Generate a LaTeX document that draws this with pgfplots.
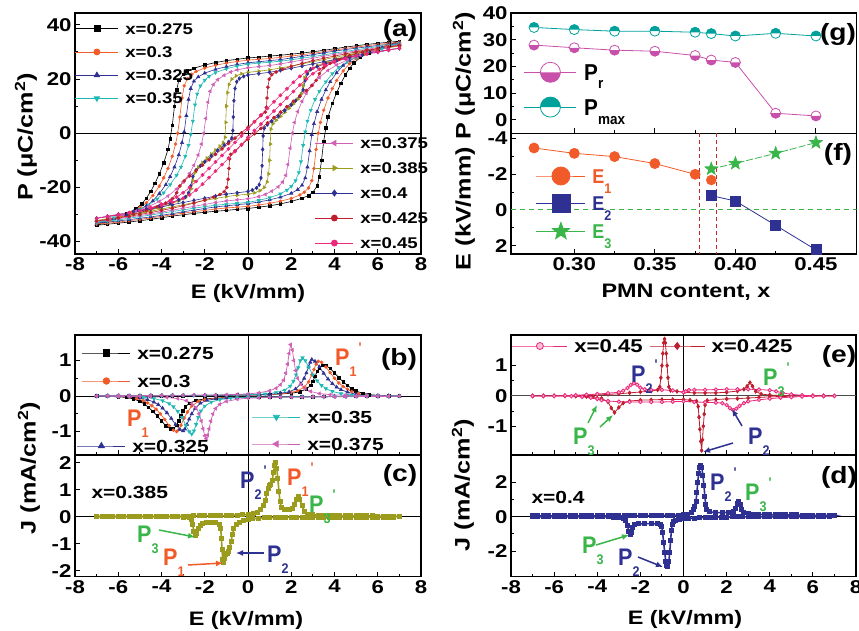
\documentclass[border=0pt]{standalone}
\usepackage{fontspec}
\setmainfont{Liberation Sans}[FakeStretch=1.2]
\newfontfamily\nfont{Liberation Sans}[FakeStretch=0.9]
\usepackage{pgfplots}
\pgfplotsset{compat=1.18}
\usetikzlibrary{arrows.meta}

\definecolor{cO}{RGB}{241,90,41}
\definecolor{cB}{RGB}{46,49,146}
\definecolor{cT}{RGB}{32,185,180}
\definecolor{cM}{RGB}{208,96,180}
\definecolor{cOl}{RGB}{155,155,30}
\definecolor{cDR}{RGB}{190,30,45}
\definecolor{cHP}{RGB}{236,40,122}
\definecolor{cG}{RGB}{57,181,74}
\definecolor{cPr}{RGB}{200,80,170}
\definecolor{cPm}{RGB}{0,160,155}
\definecolor{cRD}{RGB}{200,40,40}

\pgfdeclareplotmark{prmark}{%
  \pgfpathcircle{\pgfpointorigin}{\pgfplotmarksize}%
  \pgfsetfillcolor{white}\pgfusepathqfill
  \pgfpathmoveto{\pgfqpoint{\pgfplotmarksize}{0pt}}%
  \pgfpatharc{0}{-180}{\pgfplotmarksize}%
  \pgfpathclose
  \pgfsetfillcolor{cPr}\pgfusepathqfill
  \pgfpathcircle{\pgfpointorigin}{\pgfplotmarksize}%
  \pgfsetstrokecolor{cPr}\pgfusepathqstroke}
\pgfdeclareplotmark{pmmark}{%
  \pgfpathcircle{\pgfpointorigin}{\pgfplotmarksize}%
  \pgfsetfillcolor{white}\pgfusepathqfill
  \pgfpathmoveto{\pgfqpoint{\pgfplotmarksize}{0pt}}%
  \pgfpatharc{0}{180}{\pgfplotmarksize}%
  \pgfpathclose
  \pgfsetfillcolor{cPm}\pgfusepathqfill
  \pgfpathcircle{\pgfpointorigin}{\pgfplotmarksize}%
  \pgfsetstrokecolor{cPm}\pgfusepathqstroke}
\pgfdeclareplotmark{fstar}{%
  \pgfpathmoveto{\pgfpointpolar{90}{\pgfplotmarksize}}%
  \pgfpathlineto{\pgfpointpolar{126}{0.42\pgfplotmarksize}}%
  \pgfpathlineto{\pgfpointpolar{162}{\pgfplotmarksize}}%
  \pgfpathlineto{\pgfpointpolar{198}{0.42\pgfplotmarksize}}%
  \pgfpathlineto{\pgfpointpolar{234}{\pgfplotmarksize}}%
  \pgfpathlineto{\pgfpointpolar{270}{0.42\pgfplotmarksize}}%
  \pgfpathlineto{\pgfpointpolar{306}{\pgfplotmarksize}}%
  \pgfpathlineto{\pgfpointpolar{342}{0.42\pgfplotmarksize}}%
  \pgfpathlineto{\pgfpointpolar{18}{\pgfplotmarksize}}%
  \pgfpathlineto{\pgfpointpolar{54}{0.42\pgfplotmarksize}}%
  \pgfpathclose
  \pgfusepathqfillstroke}

\newcommand{\fs}[1]{\fontsize{#1}{#1}\selectfont}
\newcommand{\Pa}[1]{{\nfont\bfseries\fs{24}P\raisebox{-11pt}{\fs{14}#1}}}
\newcommand{\Pb}[1]{{\nfont\bfseries\fs{24}P\raisebox{-11pt}{\fs{14}#1}\hspace{2pt}\raisebox{13pt}{\fs{14}'}}}

\pgfplotsset{
  pan/.style={scale only axis, anchor=south west, axis line style={line width=1.2pt},
    tick align=inside, tick pos=left, major tick length=5pt, minor tick length=3pt,
    tick style={line width=1pt, black}, tick label style={font=\bfseries\fs{18.5}},
    /pgf/number format/assume math mode=true},
  leg/.style={scale only axis, anchor=south west, hide axis, xmin=0, xmax=1, ymin=0, ymax=1,
    legend cell align=left,
    legend style={draw=none, fill=none, inner sep=0pt, outer sep=0pt, column sep=6.5pt,
      nodes={inner sep=0pt, text depth=0pt}}},
}

\begin{document}
\begin{tikzpicture}[font=\bfseries]
\useasboundingbox (0pt,0pt) rectangle (859pt,-631pt);

%% ---------------- (a) ----------------
\begin{axis}[pan, at={(75pt,-254pt)}, width=346pt, height=241pt,
  xmin=-8, xmax=8, ymin=-44.6, ymax=44.4, xtick={-8,-6,...,8}, ytick={-40,-20,0,20,40},
  minor x tick num=1, minor y tick num=1]
\draw[line width=1pt] (axis cs:0,-44.6) -- (axis cs:0,44.4);
\draw[line width=1pt] (axis cs:-8,0) -- (axis cs:8,0);
\addplot[black, line width=0.6pt, mark=square*, mark size=1.3pt] coordinates {
(7,34.0)(6.5,33.6)(6,33.2)(5.5,32.8)(5,32.3)(4.5,31.8)(4,31.2)(3.5,30.6)(3,30.1)(2.5,29.6)(2,29.2)(1.5,28.8)(1,28.5)(0.5,28.1)(0,27.8)(-0.5,27.3)(-1,26.8)(-1.5,26.1)(-2,25.2)(-2.5,24.0)(-2.8,23.0)(-3.0,21.8)(-3.2,19.5)(-3.3,16)(-3.4,10)(-3.5,3)(-3.6,-2)(-3.7,-6)(-3.9,-11)(-4.1,-15)(-4.3,-18.5)(-4.5,-21.5)(-4.7,-24)(-4.9,-26)(-5.2,-28)(-5.6,-29.8)(-6.0,-31.2)(-6.5,-32.6)(-7,-34.0)
(-6.5,-33.6)(-6,-33.2)(-5.5,-32.8)(-5,-32.3)(-4.5,-31.8)(-4,-31.2)(-3.5,-30.6)(-3,-30.1)(-2.5,-29.6)(-2,-29.2)(-1.5,-28.8)(-1,-28.5)(-0.5,-28.1)(0,-27.8)(0.5,-27.3)(1,-26.8)(1.5,-26.1)(2,-25.2)(2.5,-24.0)(2.8,-23.0)(3.0,-21.8)(3.2,-19.5)(3.3,-16)(3.4,-10)(3.5,-3)(3.6,2)(3.7,6)(3.9,11)(4.1,15)(4.3,18.5)(4.5,21.5)(4.7,24)(4.9,26)(5.2,28)(5.6,29.8)(6.0,31.2)(6.5,32.6)(7,34.0)};
\addplot[cO, line width=0.6pt, mark=*, mark size=1.4pt] coordinates {
(7,33.6)(6.5,33.2)(6,32.8)(5.5,32.3)(5,31.8)(4.5,31.3)(4,30.7)(3.5,30.1)(3,29.5)(2.5,29.0)(2,28.5)(1.5,28.0)(1,27.6)(0.5,27.3)(0,27.0)(-0.5,26.5)(-1,25.9)(-1.5,25.1)(-2,24.1)(-2.4,22.8)(-2.6,21.8)(-2.8,20.2)(-2.95,17.5)(-3.05,13)(-3.15,6)(-3.25,0)(-3.35,-4)(-3.5,-8.5)(-3.7,-13)(-3.9,-16.5)(-4.1,-19.5)(-4.4,-23)(-4.7,-25.7)(-5.0,-27.5)(-5.4,-29.2)(-5.9,-30.8)(-6.4,-32.2)(-7,-33.6)
(-6.5,-33.2)(-6,-32.8)(-5.5,-32.3)(-5,-31.8)(-4.5,-31.3)(-4,-30.7)(-3.5,-30.1)(-3,-29.5)(-2.5,-29.0)(-2,-28.5)(-1.5,-28.0)(-1,-27.6)(-0.5,-27.3)(0,-27.0)(0.5,-26.5)(1,-25.9)(1.5,-25.1)(2,-24.1)(2.4,-22.8)(2.6,-21.8)(2.8,-20.2)(2.95,-17.5)(3.05,-13)(3.15,-6)(3.25,0)(3.35,4)(3.5,8.5)(3.7,13)(3.9,16.5)(4.1,19.5)(4.4,23)(4.7,25.7)(5.0,27.5)(5.4,29.2)(5.9,30.8)(6.4,32.2)(7,33.6)};
\addplot[cB, line width=0.6pt, mark=triangle*, mark size=1.8pt] coordinates {
(7,33.2)(6.5,32.8)(6,32.4)(5.5,31.9)(5,31.4)(4.5,30.9)(4,30.3)(3.5,29.7)(3,29.0)(2.5,28.4)(2,27.8)(1.5,27.2)(1,26.8)(0.5,26.4)(0,26.0)(-0.5,25.4)(-1,24.6)(-1.5,23.6)(-2,22.2)(-2.3,20.8)(-2.5,19.2)(-2.65,16.5)(-2.75,12.5)(-2.85,6.5)(-2.95,0.5)(-3.05,-3.5)(-3.2,-8)(-3.4,-12.5)(-3.6,-16)(-3.8,-19)(-4.1,-22.3)(-4.4,-25)(-4.7,-26.8)(-5.1,-28.5)(-5.6,-30.1)(-6.2,-31.6)(-7,-33.2)
(-6.5,-32.8)(-6,-32.4)(-5.5,-31.9)(-5,-31.4)(-4.5,-30.9)(-4,-30.3)(-3.5,-29.7)(-3,-29.0)(-2.5,-28.4)(-2,-27.8)(-1.5,-27.2)(-1,-26.8)(-0.5,-26.4)(0,-26.0)(0.5,-25.4)(1,-24.6)(1.5,-23.6)(2,-22.2)(2.3,-20.8)(2.5,-19.2)(2.65,-16.5)(2.75,-12.5)(2.85,-6.5)(2.95,-0.5)(3.05,3.5)(3.2,8)(3.4,12.5)(3.6,16)(3.8,19)(4.1,22.3)(4.4,25)(4.7,26.8)(5.1,28.5)(5.6,30.1)(6.2,31.6)(7,33.2)};
\addplot[cT, line width=0.6pt, mark=triangle*, mark size=1.8pt, mark options={rotate=180}] coordinates {
(7,33.0)(6.5,32.5)(6,32.0)(5.5,31.4)(5,30.8)(4.5,30.2)(4,29.6)(3.5,28.9)(3,28.3)(2.5,27.7)(2,27.1)(1.5,26.6)(1,26.2)(0.5,25.9)(0,25.5)(-0.5,24.8)(-1,23.8)(-1.5,22.4)(-1.8,21.0)(-2.0,19.6)(-2.2,17.5)(-2.35,14.5)(-2.45,10.5)(-2.55,4.5)(-2.65,-0.5)(-2.75,-4.5)(-2.9,-8.5)(-3.1,-12.5)(-3.3,-15.5)(-3.6,-19)(-3.9,-22)(-4.2,-24.3)(-4.6,-26.5)(-5.0,-28.0)(-5.5,-29.6)(-6.2,-31.2)(-7,-33.0)
(-6.5,-32.5)(-6,-32.0)(-5.5,-31.4)(-5,-30.8)(-4.5,-30.2)(-4,-29.6)(-3.5,-28.9)(-3,-28.3)(-2.5,-27.7)(-2,-27.1)(-1.5,-26.6)(-1,-26.2)(-0.5,-25.9)(0,-25.5)(0.5,-24.8)(1,-23.8)(1.5,-22.4)(1.8,-21.0)(2.0,-19.6)(2.2,-17.5)(2.35,-14.5)(2.45,-10.5)(2.55,-4.5)(2.65,0.5)(2.75,4.5)(2.9,8.5)(3.1,12.5)(3.3,15.5)(3.6,19)(3.9,22)(4.2,24.3)(4.6,26.5)(5.0,28.0)(5.5,29.6)(6.2,31.2)(7,33.0)};
\addplot[cM, line width=0.6pt, mark=triangle*, mark size=1.8pt, mark options={rotate=90}] coordinates {
(7,32.6)(6.5,32.1)(6,31.6)(5.5,31.0)(5,30.4)(4.5,29.8)(4,29.1)(3.5,28.4)(3,27.7)(2.5,27.0)(2,26.3)(1.5,25.6)(1,25.0)(0.5,24.6)(0,24.2)(-0.5,23.4)(-0.8,22.6)(-1.1,21.4)(-1.4,19.8)(-1.6,18)(-1.75,15.5)(-1.85,11.5)(-1.95,5.5)(-2.05,0)(-2.15,-4)(-2.3,-8)(-2.5,-11.8)(-2.7,-14.8)(-3.0,-18)(-3.3,-20.6)(-3.7,-23.2)(-4.1,-25.2)(-4.6,-27.1)(-5.2,-28.8)(-5.8,-30.2)(-6.4,-31.5)(-7,-32.6)
(-6.5,-32.1)(-6,-31.6)(-5.5,-31.0)(-5,-30.4)(-4.5,-29.8)(-4,-29.1)(-3.5,-28.4)(-3,-27.7)(-2.5,-27.0)(-2,-26.3)(-1.5,-25.6)(-1,-25.0)(-0.5,-24.6)(0,-24.2)(0.5,-23.4)(0.8,-22.6)(1.1,-21.4)(1.4,-19.8)(1.6,-18)(1.75,-15.5)(1.85,-11.5)(1.95,-5.5)(2.05,0)(2.15,4)(2.3,8)(2.5,11.8)(2.7,14.8)(3.0,18)(3.3,20.6)(3.7,23.2)(4.1,25.2)(4.6,27.1)(5.2,28.8)(5.8,30.2)(6.4,31.5)(7,32.6)};
\addplot[cOl, line width=0.6pt, mark=triangle*, mark size=1.8pt, mark options={rotate=-90}] coordinates {
(7,32.2)(6.5,31.6)(6,31.0)(5.5,30.3)(5,29.6)(4.5,28.8)(4,28.0)(3.5,27.2)(3,26.4)(2.5,25.6)(2,24.8)(1.5,24.1)(1,23.4)(0.5,22.9)(0,22.5)(-0.3,22.0)(-0.55,21.2)(-0.75,20.0)(-0.88,18.0)(-0.95,15)(-1.0,10)(-1.03,4)(-1.06,-1.5)(-1.15,-3.5)(-1.3,-4.8)(-1.5,-6.2)(-1.7,-7.7)(-1.9,-9.2)(-2.1,-10.8)(-2.3,-12.5)(-2.45,-14.5)(-2.55,-17.5)(-2.62,-20.5)(-2.72,-22.5)(-2.9,-23.8)(-3.2,-25.0)(-3.6,-26.2)(-4.1,-27.5)(-4.7,-28.8)(-5.3,-29.9)(-6,-31.0)(-6.5,-31.6)(-7,-32.2)
(-6.5,-31.6)(-6,-31.0)(-5.5,-30.3)(-5,-29.6)(-4.5,-28.8)(-4,-28.0)(-3.5,-27.2)(-3,-26.4)(-2.5,-25.6)(-2,-24.8)(-1.5,-24.1)(-1,-23.4)(-0.5,-22.9)(0,-22.5)(0.3,-22.0)(0.55,-21.2)(0.75,-20.0)(0.88,-18.0)(0.95,-15)(1.0,-10)(1.03,-4)(1.06,1.5)(1.15,3.5)(1.3,4.8)(1.5,6.2)(1.7,7.7)(1.9,9.2)(2.1,10.8)(2.3,12.5)(2.45,14.5)(2.55,17.5)(2.62,20.5)(2.72,22.5)(2.9,23.8)(3.2,25.0)(3.6,26.2)(4.1,27.5)(4.7,28.8)(5.3,29.9)(6,31.0)(6.5,31.6)(7,32.2)};
\addplot[cB, line width=0.6pt, mark=diamond*, mark size=1.8pt] coordinates {
(7,31.4)(6.5,30.8)(6,30.2)(5.5,29.5)(5,28.8)(4.5,28.0)(4,27.2)(3.5,26.4)(3,25.6)(2.5,24.8)(2,24.0)(1.5,23.2)(1,22.5)(0.5,22.0)(0,21.5)(-0.2,21.0)(-0.4,20.2)(-0.52,19)(-0.6,16.5)(-0.65,12)(-0.68,6)(-0.7,1)(-0.75,-1.8)(-0.9,-3.2)(-1.1,-4.4)(-1.4,-6.3)(-1.7,-8.4)(-2.0,-10.5)(-2.2,-12.0)(-2.4,-13.6)(-2.55,-16)(-2.65,-19.5)(-2.75,-22)(-2.9,-23.6)(-3.2,-24.6)(-3.6,-25.8)(-4.1,-26.9)(-4.7,-28.0)(-5.3,-29.0)(-6,-30.0)(-6.5,-30.7)(-7,-31.4)
(-6.5,-30.8)(-6,-30.2)(-5.5,-29.5)(-5,-28.8)(-4.5,-28.0)(-4,-27.2)(-3.5,-26.4)(-3,-25.6)(-2.5,-24.8)(-2,-24.0)(-1.5,-23.2)(-1,-22.5)(-0.5,-22.0)(0,-21.5)(0.2,-21.0)(0.4,-20.2)(0.52,-19)(0.6,-16.5)(0.65,-12)(0.68,-6)(0.7,-1)(0.75,1.8)(0.9,3.2)(1.1,4.4)(1.4,6.3)(1.7,8.4)(2.0,10.5)(2.2,12.0)(2.4,13.6)(2.55,16)(2.65,19.5)(2.75,22)(2.9,23.6)(3.2,24.6)(3.6,25.8)(4.1,26.9)(4.7,28.0)(5.3,29.0)(6,30.0)(6.5,30.7)(7,31.4)};
\addplot[cDR, line width=0.6pt, mark=*, mark size=1.5pt] coordinates {
(7,32.4)(6.5,31.9)(6,31.3)(5.5,30.7)(5,30.0)(4.5,29.3)(4,28.5)(3.5,27.7)(3,26.8)(2.5,25.8)(2,24.7)(1.6,23.6)(1.3,22.6)(1.1,21.6)(0.98,20)(0.92,17)(0.88,13)(0.85,9.5)(0.8,7.8)(0.6,6.5)(0.3,4.3)(0,2.2)(-0.3,0.2)(-0.6,-1.8)(-0.9,-3.8)(-1.2,-5.8)(-1.5,-7.8)(-1.8,-9.8)(-2.1,-11.8)(-2.4,-13.8)(-2.7,-15.8)(-2.95,-17.6)(-3.15,-19.5)(-3.3,-22)(-3.5,-24.2)(-3.8,-25.8)(-4.2,-27.2)(-4.7,-28.6)(-5.3,-29.9)(-6,-31.2)(-6.5,-31.8)(-7,-32.4)
(-6.5,-31.9)(-6,-31.3)(-5.5,-30.7)(-5,-30.0)(-4.5,-29.3)(-4,-28.5)(-3.5,-27.7)(-3,-26.8)(-2.5,-25.8)(-2,-24.7)(-1.6,-23.6)(-1.3,-22.6)(-1.1,-21.6)(-0.98,-20)(-0.92,-17)(-0.88,-13)(-0.85,-9.5)(-0.8,-7.8)(-0.6,-6.5)(-0.3,-4.3)(0,-2.2)(0.3,-0.2)(0.6,1.8)(0.9,3.8)(1.2,5.8)(1.5,7.8)(1.8,9.8)(2.1,11.8)(2.4,13.8)(2.7,15.8)(2.95,17.6)(3.15,19.5)(3.3,22)(3.5,24.2)(3.8,25.8)(4.2,27.2)(4.7,28.6)(5.3,29.9)(6,31.2)(6.5,31.8)(7,32.4)};
\addplot[cHP, line width=0.6pt, mark=*, mark size=1.6pt] coordinates {
(7,31.4)(6.5,30.8)(6,30.1)(5.5,29.4)(5,28.6)(4.5,27.7)(4,26.7)(3.5,25.5)(3,24.0)(2.7,22.8)(2.4,21.0)(2.1,18.8)(1.8,16.4)(1.5,14.0)(1.2,11.6)(0.9,9.2)(0.6,6.8)(0.3,4.2)(0,1.5)(-0.3,-1.0)(-0.6,-3.4)(-0.9,-5.8)(-1.2,-8.2)(-1.5,-10.6)(-1.8,-13.0)(-2.1,-15.4)(-2.4,-17.8)(-2.7,-20.0)(-3.0,-22.0)(-3.3,-23.6)(-3.6,-24.9)(-4.0,-26.2)(-4.5,-27.5)(-5,-28.5)(-5.5,-29.3)(-6,-30.0)(-6.5,-30.7)(-7,-31.4)
(-6.5,-30.8)(-6,-30.1)(-5.5,-29.4)(-5,-28.6)(-4.5,-27.7)(-4,-26.7)(-3.5,-25.5)(-3,-24.0)(-2.7,-22.8)(-2.4,-21.0)(-2.1,-18.8)(-1.8,-16.4)(-1.5,-14.0)(-1.2,-11.6)(-0.9,-9.2)(-0.6,-6.8)(-0.3,-4.2)(0,-1.5)(0.3,1.0)(0.6,3.4)(0.9,5.8)(1.2,8.2)(1.5,10.6)(1.8,13.0)(2.1,15.4)(2.4,17.8)(2.7,20.0)(3.0,22.0)(3.3,23.6)(3.6,24.9)(4.0,26.2)(4.5,27.5)(5,28.5)(5.5,29.3)(6,30.0)(6.5,30.7)(7,31.4)};
\end{axis}
% (a) legends
\begin{axis}[leg, at={(75pt,-254pt)}, width=346pt, height=241pt,
  legend image code/.code={\draw[mark repeat=2,mark phase=2,mark size=3pt] plot coordinates {(0pt,0pt)(21.5pt,0pt)(43pt,0pt)};},
  legend style={at={(0,1)}, anchor=north west, yshift=-10.2pt, row sep=12.1pt, font=\bfseries\fs{15.5}, nodes={text height=11.1pt}}]
\addlegendimage{black, line width=0.8pt, mark=square*}\addlegendentry{x=0.275}
\addlegendimage{cO, line width=0.8pt, mark=*}\addlegendentry{x=0.3}
\addlegendimage{cB, line width=0.8pt, mark=triangle*}\addlegendentry{x=0.325}
\addlegendimage{cT, line width=0.8pt, mark=triangle*, mark options={rotate=180}}\addlegendentry{x=0.35}
\end{axis}
\begin{axis}[leg, at={(75pt,-254pt)}, width=346pt, height=241pt,
  legend image code/.code={\draw[mark repeat=2,mark phase=2,mark size=3pt] plot coordinates {(0pt,0pt)(19pt,0pt)(38pt,0pt)};},
  legend style={at={(0,0)}, anchor=south west, xshift=240pt, yshift=5.4pt, row sep=13.9pt, font=\bfseries\fs{15.5}, nodes={text height=11.1pt}}]
\addlegendimage{cM, line width=0.8pt, mark=triangle*, mark options={rotate=90}}\addlegendentry{x=0.375}
\addlegendimage{cOl, line width=0.8pt, mark=triangle*, mark options={rotate=-90}}\addlegendentry{x=0.385}
\addlegendimage{cB, line width=0.8pt, mark=diamond*}\addlegendentry{x=0.4}
\addlegendimage{cDR, line width=0.8pt, mark=*}\addlegendentry{x=0.425}
\addlegendimage{cHP, line width=0.8pt, mark=*}\addlegendentry{x=0.45}
\end{axis}

%% ---------------- (g) ----------------
\begin{axis}[pan, at={(511pt,-133.3pt)}, width=345.7pt, height=120.3pt,
  xmin=0.2607, xmax=0.4753, ymin=-5, ymax=40, xtick={0.30,0.35,0.40,0.45}, xticklabels={},
  ytick={0,10,20,30,40}, minor x tick num=1, minor y tick num=1]
\addplot[cPm, line width=0.8pt, mark=pmmark, mark size=5pt] coordinates {
(0.275,34.6)(0.3,33.8)(0.325,33.2)(0.35,33.2)(0.375,32.8)(0.385,32.3)(0.4,31.4)(0.425,32.4)(0.45,31.4)};
\addplot[cPr, line width=0.8pt, mark=prmark, mark size=5pt] coordinates {
(0.275,28.0)(0.3,27.0)(0.325,26.1)(0.35,25.7)(0.375,24.1)(0.385,22.4)(0.4,21.5)(0.425,2.5)(0.45,1.5)};
\end{axis}
\begin{axis}[leg, at={(511pt,-133.3pt)}, width=345.7pt, height=120.3pt,
  legend image code/.code={\draw[mark repeat=2,mark phase=2,mark size=10pt] plot coordinates {(0pt,0pt)(26pt,0pt)(52pt,0pt)};},
  legend style={at={(0,1)}, anchor=north west, xshift=13pt, yshift=-49.3pt, row sep=14.8pt, nodes={text height=0pt}}]
\addlegendimage{cPr, line width=0.8pt, mark=prmark}\addlegendentry{}
\addlegendimage{cPm, line width=0.8pt, mark=pmmark}\addlegendentry{}
\end{axis}
\node[anchor=base west, inner sep=0pt] at (584pt,-81pt) {\nfont\bfseries\fs{23}P\raisebox{-8pt}{\fs{15}r}};
\node[anchor=base west, inner sep=0pt] at (584pt,-116pt) {\nfont\bfseries\fs{23}P\raisebox{-9pt}{\fs{15}max}};

%% ---------------- (f) ----------------
\begin{axis}[pan, at={(511pt,-254pt)}, width=345.7pt, height=120.7pt,
  xmin=0.2607, xmax=0.4753, ymin=-4.28, ymax=2.46, y dir=reverse,
  xtick={0.30,0.35,0.40,0.45}, ytick={-4,-2,0,2}, minor x tick num=1, minor y tick num=1,
  xticklabel style={/pgf/number format/fixed, /pgf/number format/fixed zerofill, /pgf/number format/precision=2}]
\addplot[cG, line width=1pt, dash pattern=on 5pt off 4pt, forget plot] coordinates {(0.2607,0)(0.4753,0)};
\addplot[cRD, line width=1pt, dash pattern=on 4pt off 3pt, forget plot] coordinates {(0.378,-4.28)(0.378,2.46)};
\addplot[cRD, line width=1pt, dash pattern=on 4pt off 3pt, forget plot] coordinates {(0.388,-4.28)(0.388,2.46)};
\addplot[cO, line width=0.8pt, mark=*, mark size=5pt] coordinates {
(0.275,-3.46)(0.3,-3.16)(0.325,-2.98)(0.35,-2.59)(0.375,-1.99)};
\addplot[cO, only marks, mark=*, mark size=5pt] coordinates {(0.385,-1.67)};
\addplot[cB, line width=0.8pt, mark=square*, mark size=5pt] coordinates {
(0.385,-0.8)(0.4,-0.5)(0.425,0.86)(0.45,2.23)};
\addplot[cG, line width=0.8pt, dash pattern=on 7pt off 2pt, mark=fstar, mark size=6.5pt, mark options={solid, fill=cG, draw=cG}] coordinates {
(0.385,-2.29)(0.4,-2.6)(0.425,-3.16)(0.45,-3.76)};
\end{axis}
\begin{axis}[leg, at={(511pt,-254pt)}, width=345.7pt, height=120.7pt,
  legend image code/.code={\draw[mark repeat=2,mark phase=2,mark size=9pt] plot coordinates {(0pt,0pt)(24.5pt,0pt)(49pt,0pt)};},
  legend style={at={(0,1)}, anchor=north west, xshift=25pt, yshift=-33.7pt, row sep=9.7pt, nodes={text height=14.3pt}}]
\addlegendimage{cO, line width=0.8pt, mark=*}\addlegendentry{\textcolor{cO}{\nfont\bfseries\fs{20}E\raisebox{-10pt}{\fs{14}1}}}
\addlegendimage{cB, line width=0.8pt, mark=square*}\addlegendentry{\textcolor{cB}{\nfont\bfseries\fs{20}E\raisebox{-10pt}{\fs{14}2}}}
\addlegendimage{cG, line width=0.8pt, mark=fstar, mark options={fill=cG, draw=cG}}\addlegendentry{\textcolor{cG}{\nfont\bfseries\fs{20}E\raisebox{-10pt}{\fs{14}3}}}
\end{axis}

%% ---------------- (b) ----------------
\begin{axis}[pan, at={(75pt,-455pt)}, width=346pt, height=120pt,
  xmin=-8, xmax=8, ymin=-1.66, ymax=1.72, xtick={-8,-6,...,8}, xticklabels={},
  ytick={-1,0,1}, minor x tick num=1, minor y tick num=1]
\draw[line width=1pt] (axis cs:0,-1.66) -- (axis cs:0,1.72);
\draw[line width=1pt] (axis cs:-8,0) -- (axis cs:8,0);
\addplot[black, line width=0.7pt, mark=square*, mark size=1.3pt] coordinates {
(-7,0)(-6.5,0.01)(-6,0.01)(-5.5,0.01)(-5,0.01)(-4.5,0.01)(-4,0.01)(-3.5,0.01)(-3,0.01)(-2.5,0.02)(-2,0.02)(-1.5,0.02)(-1,0.02)(-0.5,0.03)(0,0.03)(0.5,0.03)(1,0.04)(1.5,0.06)(2,0.08)(2.4,0.12)(2.7,0.2)(2.9,0.3)(3.0,0.42)(3.1,0.55)(3.2,0.7)(3.3,0.8)(3.45,0.87)(3.6,0.86)(3.8,0.78)(4.0,0.65)(4.2,0.52)(4.4,0.4)(4.6,0.3)(4.8,0.21)(5.0,0.14)(5.3,0.08)(5.6,0.04)(6,0.02)(6.5,0.01)(7,0)
(6.5,-0.01)(6,-0.01)(5.5,-0.01)(5,-0.01)(4.5,-0.01)(4,-0.01)(3.5,-0.01)(3,-0.02)(2.5,-0.02)(2,-0.02)(1.5,-0.02)(1,-0.03)(0.5,-0.03)(0,-0.03)(-0.5,-0.03)(-1,-0.04)(-1.5,-0.06)(-2,-0.08)(-2.4,-0.12)(-2.7,-0.2)(-2.9,-0.3)(-3.0,-0.42)(-3.1,-0.55)(-3.2,-0.7)(-3.3,-0.82)(-3.45,-0.93)(-3.6,-0.92)(-3.8,-0.84)(-4.0,-0.7)(-4.2,-0.56)(-4.4,-0.43)(-4.6,-0.32)(-4.8,-0.22)(-5.0,-0.15)(-5.3,-0.08)(-5.6,-0.04)(-6,-0.02)(-6.5,-0.01)(-7,0)};
\addplot[cO, line width=0.7pt, mark=*, mark size=1.4pt] coordinates {
(-7,0)(-6.5,0.01)(-6,0.01)(-5.5,0.01)(-5,0.01)(-4.5,0.01)(-4,0.01)(-3.5,0.01)(-3,0.02)(-2.5,0.02)(-2,0.02)(-1.5,0.02)(-1,0.02)(-0.5,0.03)(0,0.03)(0.5,0.03)(1,0.04)(1.5,0.06)(2,0.1)(2.3,0.15)(2.6,0.25)(2.8,0.4)(2.95,0.6)(3.05,0.75)(3.15,0.9)(3.25,0.98)(3.4,0.95)(3.6,0.82)(3.8,0.66)(4.0,0.5)(4.2,0.37)(4.4,0.27)(4.6,0.19)(4.8,0.13)(5.1,0.07)(5.5,0.03)(6,0.01)(6.5,0.01)(7,0)
(6.5,-0.01)(6,-0.01)(5.5,-0.01)(5,-0.01)(4.5,-0.01)(4,-0.01)(3.5,-0.02)(3,-0.02)(2.5,-0.02)(2,-0.02)(1.5,-0.02)(1,-0.02)(0.5,-0.03)(0,-0.03)(-0.5,-0.03)(-1,-0.04)(-1.5,-0.06)(-2,-0.1)(-2.3,-0.15)(-2.6,-0.28)(-2.8,-0.45)(-2.95,-0.62)(-3.1,-0.82)(-3.2,-0.95)(-3.3,-1.0)(-3.45,-0.96)(-3.65,-0.83)(-3.85,-0.66)(-4.05,-0.5)(-4.25,-0.37)(-4.45,-0.27)(-4.65,-0.19)(-4.85,-0.13)(-5.15,-0.07)(-5.5,-0.03)(-6,-0.01)(-6.5,-0.01)(-7,0)};
\addplot[cB, line width=0.7pt, mark=triangle*, mark size=1.8pt] coordinates {
(-7,0)(-6.5,0.01)(-6,0.01)(-5.5,0.01)(-5,0.01)(-4.5,0.01)(-4,0.01)(-3.5,0.02)(-3,0.02)(-2.5,0.02)(-2,0.02)(-1.5,0.02)(-1,0.02)(-0.5,0.03)(0,0.03)(0.5,0.04)(1,0.05)(1.5,0.08)(1.9,0.12)(2.2,0.2)(2.45,0.35)(2.6,0.5)(2.7,0.65)(2.8,0.82)(2.88,0.95)(2.95,1.03)(3.1,0.98)(3.3,0.82)(3.5,0.64)(3.7,0.48)(3.9,0.35)(4.1,0.25)(4.3,0.18)(4.6,0.11)(5,0.05)(5.5,0.02)(6,0.01)(6.5,0.01)(7,0)
(6.5,-0.01)(6,-0.01)(5.5,-0.01)(5,-0.01)(4.5,-0.01)(4,-0.01)(3.5,-0.02)(3,-0.02)(2.5,-0.02)(2,-0.02)(1.5,-0.02)(1,-0.02)(0.5,-0.03)(0,-0.03)(-0.5,-0.04)(-1,-0.05)(-1.5,-0.08)(-1.9,-0.12)(-2.2,-0.2)(-2.45,-0.35)(-2.6,-0.5)(-2.72,-0.65)(-2.82,-0.8)(-2.92,-0.93)(-3.0,-0.98)(-3.15,-0.94)(-3.35,-0.8)(-3.55,-0.63)(-3.75,-0.47)(-3.95,-0.34)(-4.15,-0.24)(-4.35,-0.17)(-4.65,-0.1)(-5,-0.05)(-5.5,-0.02)(-6,-0.01)(-6.5,-0.01)(-7,0)};
\addplot[cT, line width=0.7pt, mark=triangle*, mark size=1.8pt, mark options={rotate=180}] coordinates {
(-7,0)(-6.5,0.01)(-6,0.01)(-5.5,0.01)(-5,0.01)(-4.5,0.01)(-4,0.01)(-3.5,0.02)(-3,0.02)(-2.5,0.02)(-2,0.02)(-1.5,0.03)(-1,0.03)(-0.5,0.03)(0,0.04)(0.5,0.05)(0.8,0.06)(1.3,0.1)(1.7,0.17)(1.95,0.28)(2.1,0.42)(2.22,0.6)(2.32,0.8)(2.42,1.0)(2.52,1.08)(2.65,1.0)(2.8,0.82)(3.0,0.6)(3.2,0.43)(3.4,0.3)(3.6,0.21)(3.9,0.13)(4.3,0.07)(4.8,0.03)(5.5,0.01)(6,0.01)(6.5,0)(7,0)
(6.5,-0.01)(6,-0.01)(5.5,-0.01)(5,-0.01)(4.5,-0.01)(4,-0.01)(3.5,-0.02)(3,-0.02)(2.5,-0.02)(2,-0.02)(1.5,-0.03)(1,-0.03)(0.5,-0.03)(0,-0.04)(-0.5,-0.05)(-0.8,-0.06)(-1.3,-0.1)(-1.7,-0.17)(-2.0,-0.28)(-2.18,-0.42)(-2.3,-0.6)(-2.4,-0.8)(-2.5,-0.98)(-2.6,-1.07)(-2.72,-1.0)(-2.88,-0.82)(-3.05,-0.6)(-3.25,-0.43)(-3.45,-0.3)(-3.65,-0.21)(-3.95,-0.13)(-4.35,-0.07)(-4.85,-0.03)(-5.5,-0.01)(-6,-0.01)(-6.5,0)(-7,0)};
\addplot[cM, line width=0.7pt, mark=triangle*, mark size=1.8pt, mark options={rotate=90}] coordinates {
(-7,0)(-6.5,0.01)(-6,0.01)(-5.5,0.01)(-5,0.01)(-4.5,0.02)(-4,0.02)(-3.5,0.02)(-3,0.02)(-2.5,0.03)(-2,0.03)(-1.5,0.03)(-1,0.04)(-0.5,0.05)(0,0.06)(0.5,0.09)(1.0,0.15)(1.3,0.22)(1.5,0.32)(1.65,0.45)(1.75,0.65)(1.83,0.9)(1.9,1.2)(1.97,1.45)(2.05,1.3)(2.12,1.0)(2.2,0.72)(2.3,0.5)(2.45,0.33)(2.65,0.21)(2.9,0.13)(3.3,0.07)(3.8,0.04)(4.5,0.02)(5,0.01)(5.5,0.01)(6,0.01)(6.5,0)(7,0)
(6.5,-0.01)(6,-0.01)(5.5,-0.01)(5,-0.01)(4.5,-0.02)(4,-0.02)(3.5,-0.02)(3,-0.02)(2.5,-0.03)(2,-0.03)(1.5,-0.03)(1,-0.04)(0.5,-0.05)(0,-0.06)(-0.5,-0.09)(-1.0,-0.15)(-1.3,-0.23)(-1.5,-0.35)(-1.62,-0.5)(-1.72,-0.7)(-1.8,-0.92)(-1.87,-1.1)(-1.93,-1.2)(-2.0,-1.12)(-2.08,-0.92)(-2.16,-0.7)(-2.26,-0.5)(-2.4,-0.33)(-2.6,-0.21)(-2.85,-0.13)(-3.25,-0.07)(-3.75,-0.04)(-4.5,-0.02)(-5,-0.01)(-5.5,-0.01)(-6,-0.01)(-6.5,0)(-7,0)};
\end{axis}
\begin{axis}[leg, at={(75pt,-455pt)}, width=346pt, height=120pt,
  legend image code/.code={\draw[mark repeat=2,mark phase=2,mark size=3.3pt] plot coordinates {(0pt,0pt)(24pt,0pt)(48pt,0pt)};},
  legend style={at={(0,1)}, anchor=north west, xshift=7pt, yshift=-11.75pt, row sep=15.5pt, font=\bfseries\fs{17.5}, nodes={text height=12.5pt}}]
\addlegendimage{black, line width=0.8pt, mark=square*}\addlegendentry{x=0.275}
\addlegendimage{cO, line width=0.8pt, mark=*}\addlegendentry{x=0.3}
\end{axis}
\begin{axis}[leg, at={(75pt,-455pt)}, width=346pt, height=120pt,
  legend image code/.code={\draw[mark repeat=2,mark phase=2,mark size=3.5pt] plot coordinates {(0pt,0pt)(24pt,0pt)(48pt,0pt)};},
  legend style={at={(0,0)}, anchor=south west, xshift=2pt, yshift=2.75pt, font=\bfseries\fs{17.5}, nodes={text height=12.5pt}}]
\addlegendimage{cB, line width=0.8pt, mark=triangle*}\addlegendentry{x=0.325}
\end{axis}
\begin{axis}[leg, at={(75pt,-455pt)}, width=346pt, height=120pt,
  legend image code/.code={\draw[mark repeat=2,mark phase=2,mark size=3.5pt] plot coordinates {(0pt,0pt)(24pt,0pt)(48pt,0pt)};},
  legend style={at={(0,0)}, anchor=south west, xshift=177pt, yshift=4.75pt, row sep=14.5pt, font=\bfseries\fs{17.5}, nodes={text height=12.5pt}}]
\addlegendimage{cT, line width=0.8pt, mark=triangle*, mark options={rotate=180}}\addlegendentry{x=0.35}
\addlegendimage{cM, line width=0.8pt, mark=triangle*, mark options={rotate=90}}\addlegendentry{x=0.375}
\end{axis}

%% ---------------- (c) ----------------
\begin{axis}[pan, at={(75pt,-576.7pt)}, width=346pt, height=121.7pt,
  xmin=-8, xmax=8, ymin=-2.22, ymax=2.285, xtick={-8,-6,...,8},
  ytick={-2,-1,0,1,2}, minor x tick num=1]
\draw[line width=1pt] (axis cs:0,-2.22) -- (axis cs:0,2.285);
\draw[line width=1pt] (axis cs:-8,0) -- (axis cs:8,0);
\addplot[cOl, line width=1.6pt, mark=square*, mark size=1.7pt] coordinates {
(-7,0.02)(-6.75,0.02)(-6.5,0.02)(-6.25,0.02)(-6,0.02)(-5.75,0.02)(-5.5,0.02)(-5.25,0.02)(-5,0.02)(-4.75,0.02)(-4.5,0.02)(-4.25,0.02)(-4,0.02)(-3.75,0.02)(-3.5,0.02)(-3.25,0.02)(-3,0.02)(-2.75,0.02)(-2.5,0.03)(-2.25,0.03)(-2,0.03)(-1.75,0.03)(-1.5,0.03)(-1.25,0.03)(-1,0.04)(-0.75,0.05)(-0.5,0.06)(-0.25,0.07)(0,0.08)(0.25,0.11)(0.45,0.16)(0.6,0.25)(0.72,0.4)(0.8,0.6)(0.87,0.85)(0.93,1.05)(1.0,1.15)(1.06,1.2)(1.12,1.35)(1.18,1.65)(1.23,1.9)(1.28,2.0)(1.33,1.8)(1.38,1.4)(1.43,0.95)(1.48,0.55)(1.55,0.33)(1.7,0.28)(1.9,0.28)(2.05,0.32)(2.15,0.45)(2.25,0.65)(2.32,0.74)(2.4,0.62)(2.5,0.4)(2.6,0.2)(2.75,0.1)(3,0.07)(3.25,0.06)(3.5,0.05)(3.75,0.05)(4,0.04)(4.25,0.04)(4.5,0.04)(4.75,0.04)(5,0.03)(5.25,0.03)(5.5,0.03)(5.75,0.03)(6,0.02)(6.25,0.02)(6.5,0.02)(6.75,0.02)(7,0.02)
(6.75,-0.01)(6.5,-0.01)(6.25,-0.01)(6,-0.01)(5.75,-0.01)(5.5,-0.01)(5.25,-0.01)(5,-0.01)(4.75,-0.01)(4.5,-0.01)(4.25,-0.01)(4,-0.01)(3.75,-0.01)(3.5,-0.01)(3.25,-0.01)(3,-0.01)(2.75,-0.01)(2.5,-0.01)(2.25,-0.02)(2,-0.02)(1.75,-0.02)(1.5,-0.02)(1.25,-0.03)(1,-0.03)(0.75,-0.04)(0.5,-0.05)(0.2,-0.08)(0,-0.1)(-0.2,-0.13)(-0.4,-0.2)(-0.55,-0.3)(-0.65,-0.45)(-0.72,-0.65)(-0.78,-0.9)(-0.84,-1.15)(-0.9,-1.3)(-0.96,-1.35)(-1.02,-1.4)(-1.08,-1.55)(-1.13,-1.7)(-1.17,-1.6)(-1.2,-1.2)(-1.23,-0.8)(-1.26,-0.45)(-1.3,-0.27)(-1.5,-0.23)(-1.7,-0.22)(-1.9,-0.23)(-2.1,-0.26)(-2.2,-0.32)(-2.3,-0.45)(-2.38,-0.62)(-2.44,-0.68)(-2.5,-0.55)(-2.56,-0.3)(-2.62,-0.1)(-2.7,-0.03)(-3,-0.01)(-3.25,0)(-3.5,0)(-3.75,0)(-4,0)(-4.25,0)(-4.5,0)(-4.75,0)(-5,0)(-5.25,0)(-5.5,0)(-5.75,0)(-6,0)(-6.25,0)(-6.5,0)(-6.75,0)(-7,0)};
\end{axis}

%% ---------------- (e) ----------------
\begin{axis}[pan, at={(511pt,-455pt)}, width=345pt, height=120pt,
  xmin=-8, xmax=8, ymin=-1.95, ymax=2.01, xtick={-8,-6,...,8}, xticklabels={},
  ytick={-1,0,1}, minor x tick num=1, minor y tick num=1]
\draw[line width=1pt] (axis cs:0,-1.95) -- (axis cs:0,2.01);
\draw[line width=1pt, black!70] (axis cs:-8,0) -- (axis cs:8,0);
\addplot[cDR, line width=0.8pt, mark=diamond*, mark size=1.8pt] coordinates {
(-7,0)(-6.5,0)(-6,0)(-5.5,0.01)(-5,0.01)(-4.5,0.02)(-4,0.03)(-3.5,0.05)(-3,0.07)(-2.5,0.1)(-2,0.13)(-1.5,0.16)(-1.2,0.2)(-1.1,0.3)(-1.05,0.6)(-1.0,1.0)(-0.96,1.4)(-0.92,1.75)(-0.88,1.88)(-0.84,1.75)(-0.8,1.4)(-0.76,1.0)(-0.72,0.6)(-0.68,0.3)(-0.6,0.18)(-0.3,0.15)(0,0.12)(0.5,0.1)(1,0.1)(1.5,0.1)(2,0.12)(2.5,0.16)(2.8,0.22)(2.95,0.32)(3.08,0.44)(3.2,0.32)(3.35,0.15)(3.6,0.06)(4,0.03)(4.5,0.01)(5,0)(5.5,0)(6,0)(6.5,0)(7,0)
(6.5,0)(6,0)(5.5,0)(5,-0.01)(4.5,-0.02)(4,-0.03)(3.5,-0.05)(3,-0.07)(2.5,-0.09)(2,-0.1)(1.5,-0.12)(1.1,-0.15)(1.0,-0.3)(0.96,-0.6)(0.92,-1.0)(0.88,-1.45)(0.84,-1.8)(0.8,-1.5)(0.76,-1.1)(0.72,-0.7)(0.68,-0.35)(0.6,-0.17)(0.3,-0.14)(0,-0.12)(-0.5,-0.12)(-1,-0.12)(-1.5,-0.13)(-2,-0.14)(-2.5,-0.17)(-2.8,-0.24)(-3.0,-0.38)(-3.2,-0.55)(-3.35,-0.4)(-3.5,-0.2)(-3.8,-0.08)(-4.2,-0.03)(-4.5,-0.02)(-5,-0.01)(-5.5,0)(-6,0)(-6.5,0)(-7,0)};
\addplot[cHP, line width=0.8pt, mark=*, mark size=1.8pt, mark options={fill=cHP!30, draw=cHP}] coordinates {
(-7,0)(-6.5,0)(-6,0)(-5.5,0.01)(-5,0.02)(-4.5,0.04)(-4,0.06)(-3.5,0.09)(-3,0.12)(-2.8,0.17)(-2.6,0.26)(-2.45,0.36)(-2.3,0.42)(-2.15,0.37)(-2.0,0.27)(-1.8,0.22)(-1.5,0.2)(-1,0.2)(-0.5,0.18)(0,0.12)(0.1,0.15)(0.25,0.19)(0.5,0.2)(1,0.2)(1.5,0.21)(2,0.22)(2.5,0.22)(3,0.22)(3.5,0.21)(4,0.19)(4.3,0.15)(4.6,0.1)(5,0.05)(5.5,0.02)(6,0.01)(6.5,0)(7,0)
(6.5,0)(6,-0.01)(5.5,-0.02)(5,-0.04)(4.5,-0.06)(4,-0.09)(3.5,-0.13)(3,-0.18)(2.8,-0.24)(2.6,-0.33)(2.45,-0.42)(2.3,-0.47)(2.15,-0.4)(2.0,-0.3)(1.8,-0.24)(1.5,-0.22)(1,-0.21)(0.5,-0.2)(0,-0.18)(-0.5,-0.19)(-1,-0.2)(-1.5,-0.2)(-2,-0.2)(-2.5,-0.2)(-3,-0.19)(-3.5,-0.17)(-3.8,-0.14)(-4,-0.1)(-4.3,-0.06)(-4.7,-0.03)(-5.2,-0.01)(-6,0)(-6.5,0)(-7,0)};
\end{axis}
\begin{axis}[leg, at={(511pt,-455pt)}, width=345pt, height=120pt, legend columns=2,
  legend image code/.code={\draw[mark repeat=2,mark phase=2,mark size=3.5pt] plot coordinates {(0pt,0pt)(27.5pt,0pt)(55pt,0pt)};},
  legend style={at={(0,1)}, anchor=north west, xshift=1pt, yshift=-4.4pt, font=\bfseries\fs{18.5}, nodes={text height=13.2pt}}]
\addlegendimage{cHP, line width=0.8pt, mark=*, mark options={fill=cHP!30, draw=cHP}}\addlegendentry{x=0.45\hspace{24pt}}
\addlegendimage{cDR, line width=0.8pt, mark=diamond*}\addlegendentry{x=0.425}
\end{axis}

%% ---------------- (d) ----------------
\begin{axis}[pan, at={(511pt,-576.7pt)}, width=345pt, height=121.7pt,
  xmin=-8, xmax=8, ymin=-3.49, ymax=3.59, xtick={-8,-6,...,8},
  ytick={-2,0,2}, minor x tick num=1, minor y tick num=1]
\draw[line width=1pt] (axis cs:0,-3.49) -- (axis cs:0,3.59);
\draw[line width=1pt] (axis cs:-8,0) -- (axis cs:8,0);
\addplot[cB, line width=1.6pt, mark=square*, mark size=1.7pt] coordinates {
(-7,0.05)(-6.75,0.05)(-6.5,0.05)(-6.25,0.05)(-6,0.05)(-5.75,0.05)(-5.5,0.05)(-5.25,0.05)(-5,0.05)(-4.75,0.05)(-4.5,0.05)(-4.25,0.05)(-4,0.05)(-3.75,0.05)(-3.5,0.05)(-3.25,0.05)(-3,0.05)(-2.75,0.05)(-2.5,0.05)(-2.25,0.05)(-2,0.05)(-1.75,0.06)(-1.5,0.06)(-1.25,0.07)(-1,0.07)(-0.75,0.08)(-0.5,0.08)(-0.25,0.09)(0,0.1)(0.2,0.15)(0.35,0.25)(0.45,0.4)(0.52,0.6)(0.58,0.9)(0.62,1.4)(0.66,2.0)(0.7,2.5)(0.75,2.85)(0.8,3.0)(0.85,2.85)(0.9,2.4)(0.95,1.8)(0.99,1.2)(1.03,0.7)(1.08,0.4)(1.2,0.28)(1.5,0.24)(1.8,0.24)(2.1,0.25)(2.3,0.3)(2.42,0.5)(2.5,0.75)(2.56,0.87)(2.62,0.7)(2.7,0.4)(2.8,0.25)(3,0.17)(3.25,0.15)(3.5,0.14)(3.75,0.13)(4,0.12)(4.25,0.12)(4.5,0.11)(4.75,0.11)(5,0.1)(5.25,0.1)(5.5,0.09)(5.75,0.09)(6,0.08)(6.25,0.08)(6.5,0.07)(6.75,0.07)(7,0.06)
(6.75,0)(6.5,0)(6.25,0)(6,0)(5.75,0)(5.5,0)(5.25,0)(5,0)(4.75,0)(4.5,0)(4.25,0)(4,0)(3.75,0)(3.5,0)(3.25,0)(3,-0.01)(2.75,-0.01)(2.5,-0.01)(2.25,-0.01)(2,-0.02)(1.75,-0.02)(1.5,-0.03)(1.25,-0.04)(1,-0.05)(0.75,-0.06)(0.5,-0.08)(0.25,-0.1)(0,-0.13)(-0.2,-0.17)(-0.35,-0.22)(-0.45,-0.3)(-0.52,-0.45)(-0.56,-0.8)(-0.6,-1.4)(-0.64,-2.1)(-0.68,-2.6)(-0.72,-2.9)(-0.77,-2.85)(-0.82,-2.6)(-0.87,-2.1)(-0.92,-1.5)(-0.97,-0.9)(-1.01,-0.55)(-1.06,-0.44)(-1.2,-0.42)(-1.5,-0.4)(-1.8,-0.4)(-2.1,-0.42)(-2.25,-0.48)(-2.35,-0.65)(-2.42,-0.9)(-2.48,-1.05)(-2.54,-0.85)(-2.6,-0.5)(-2.68,-0.2)(-2.8,-0.08)(-3,-0.03)(-3.25,-0.02)(-3.5,-0.01)(-3.75,0)(-4,0)(-4.25,0)(-4.5,0)(-4.75,0)(-5,0)(-5.25,0)(-5.5,0)(-5.75,0)(-6,0)(-6.25,0)(-6.5,0)(-6.75,0)(-7,0)};
\end{axis}

%% ---------------- labels ----------------
\node[rotate=90, font=\bfseries\fs{21}] at (26pt,-137pt) {P (μC/cm\textsuperscript{2})};
\node[rotate=90, font=\bfseries\fs{21}] at (464pt,-141pt) {E (kV/mm) P (μC/cm\textsuperscript{2})};
\node[rotate=90, font=\bfseries\fs{21}] at (29pt,-468pt) {J (mA/cm\textsuperscript{2})};
\node[rotate=90, font=\bfseries\fs{21}] at (463pt,-485pt) {J (mA/cm\textsuperscript{2})};
\node[font=\bfseries\fs{19.5}] at (248pt,-293pt) {E (kV/mm)};
\node[font=\bfseries\fs{19.5}] at (686pt,-292pt) {PMN content, x};
\node[font=\bfseries\fs{19.5}] at (246pt,-620pt) {E (kV/mm)};
\node[font=\bfseries\fs{19.5}] at (685pt,-619pt) {E (kV/mm)};

\node[font=\bfseries\fs{23.5}] at (400pt,-30pt) {(a)};
\node[font=\bfseries\fs{23.5}] at (838pt,-34pt) {(g)};
\node[font=\bfseries\fs{23.5}] at (838pt,-154pt) {(f)};
\node[font=\bfseries\fs{23.5}] at (399pt,-359pt) {(b)};
\node[font=\bfseries\fs{23.5}] at (400pt,-475pt) {(c)};
\node[font=\bfseries\fs{23.5}] at (839pt,-356pt) {(e)};
\node[font=\bfseries\fs{23.5}] at (839pt,-477pt) {(d)};

\node[anchor=west, font=\bfseries\fs{17.5}] at (88pt,-492pt) {x=0.385};
\node[anchor=west, font=\bfseries\fs{17.5}] at (528pt,-497pt) {x=0.4};

% annotations (b)
\node[anchor=base west, inner sep=0pt, text=cO] at (335pt,-365pt) {\Pb{1}};
\node[anchor=base west, inner sep=0pt, text=cO] at (127pt,-426pt) {\Pa{1}};
% annotations (c)
\node[anchor=base west, inner sep=0pt, text=cB] at (240pt,-488pt) {\Pb{2}};
\node[anchor=base west, inner sep=0pt, text=cO] at (287pt,-485pt) {\Pb{1}};
\node[anchor=base west, inner sep=0pt, text=cG] at (309pt,-512pt) {\Pb{3}};
\node[anchor=base west, inner sep=0pt, text=cG] at (137pt,-542pt) {\Pa{3}};
\node[anchor=base west, inner sep=0pt, text=cO] at (163pt,-565pt) {\Pa{1}};
\node[anchor=base west, inner sep=0pt, text=cB] at (267pt,-562pt) {\Pa{2}};
\draw[-{Latex[length=7pt,width=6pt]}, line width=1.5pt, cG] (159pt,-530pt) -- (195pt,-537pt);
\draw[-{Latex[length=7pt,width=6pt]}, line width=1.5pt, cO] (188pt,-565pt) -- (223pt,-563pt);
\draw[-{Latex[length=7pt,width=6pt]}, line width=1.5pt, cB] (264pt,-553pt) -- (236pt,-553pt);
% annotations (e)
\node[anchor=base west, inner sep=0pt, text=cB] at (631pt,-382pt) {\Pb{2}};
\node[anchor=base west, inner sep=0pt, text=cG] at (763pt,-385pt) {\Pb{3}};
\node[anchor=base west, inner sep=0pt, text=cG] at (573pt,-444pt) {\Pa{3}};
\node[anchor=base west, inner sep=0pt, text=cB] at (748pt,-444pt) {\Pa{2}};
\draw[-{Latex[length=7pt,width=6pt]}, line width=1.5pt, cG] (588pt,-423pt) -- (597pt,-405pt);
\draw[-{Latex[length=7pt,width=6pt]}, line width=1.5pt, cG] (600pt,-427pt) -- (613pt,-415pt);
\draw[-{Latex[length=7pt,width=6pt]}, line width=1.5pt, cB] (742pt,-426pt) -- (732pt,-409pt);
\draw[-{Latex[length=7pt,width=6pt]}, line width=1.5pt, cB] (733pt,-443pt) -- (703pt,-452pt);
% annotations (d)
\node[anchor=base west, inner sep=0pt, text=cB] at (710pt,-490pt) {\Pb{2}};
\node[anchor=base west, inner sep=0pt, text=cG] at (745pt,-500pt) {\Pb{3}};
\node[anchor=base west, inner sep=0pt, text=cG] at (582pt,-553pt) {\Pa{3}};
\node[anchor=base west, inner sep=0pt, text=cB] at (618pt,-565pt) {\Pa{2}};
\draw[-{Latex[length=7pt,width=6pt]}, line width=1.5pt, cG] (596pt,-545pt) -- (629pt,-535pt);
\draw[-{Latex[length=7pt,width=6pt]}, line width=1.5pt, cB] (638pt,-557pt) -- (663pt,-567pt);
\end{tikzpicture}
\end{document}
